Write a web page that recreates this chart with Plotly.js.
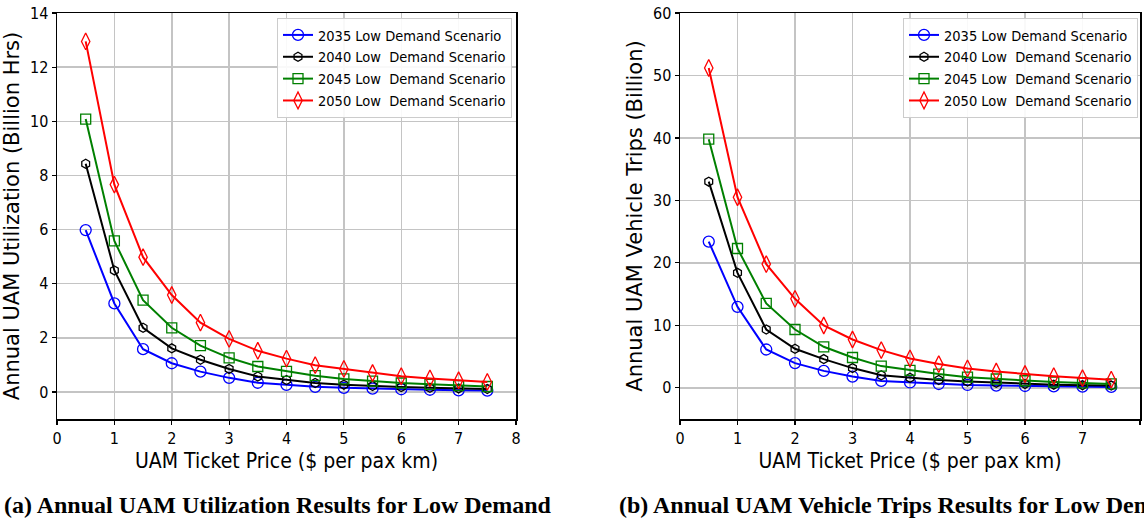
<!DOCTYPE html>
<html>
<head>
<meta charset="utf-8">
<script src="https://cdn.plot.ly/plotly-3.0.1.min.js"></script>
<style>
html,body{margin:0;padding:0;background:#fff;}
#chart{width:1144px;height:518px;}
</style>
</head>
<body>
<div id="chart"></div>
<script>
// ---- data ----
const price = [0.5, 1, 1.5, 2, 2.5, 3, 3.5, 4, 4.5, 5, 5.5, 6, 6.5, 7, 7.5];
const seriesNames = ["2035 Low Demand Scenario", "2040 Low\u00a0 Demand Scenario", "2045 Low\u00a0 Demand Scenario", "2050 Low\u00a0 Demand Scenario"];

// (a) Annual UAM Utilization (Billion Hrs)
const util2035 = [5.98, 3.27, 1.58, 1.06, 0.75, 0.52, 0.34, 0.26, 0.19, 0.15, 0.12, 0.10, 0.08, 0.06, 0.05];
const util2040 = [8.43, 4.49, 2.37, 1.61, 1.19, 0.85, 0.57, 0.44, 0.33, 0.27, 0.22, 0.18, 0.15, 0.13, 0.11];
const util2045 = [10.08, 5.58, 3.39, 2.37, 1.71, 1.26, 0.94, 0.76, 0.60, 0.48, 0.40, 0.33, 0.28, 0.23, 0.20];
const util2050 = [12.95, 7.66, 4.98, 3.58, 2.56, 1.96, 1.52, 1.23, 0.99, 0.85, 0.70, 0.58, 0.50, 0.43, 0.37];

// (b) Annual UAM Vehicle Trips (Billion)
const trips2035 = [23.4, 12.96, 6.13, 3.95, 2.7, 1.8, 1.1, 0.85, 0.6, 0.45, 0.35, 0.28, 0.22, 0.18, 0.14];
const trips2040 = [33.0, 18.4, 9.33, 6.24, 4.59, 3.15, 2.0, 1.6, 1.25, 1.0, 0.8, 0.62, 0.5, 0.42, 0.35];
const trips2045 = [39.8, 22.3, 13.5, 9.33, 6.56, 4.85, 3.47, 2.8, 2.19, 1.7, 1.4, 1.12, 0.92, 0.78, 0.62];
const trips2050 = [51.2, 30.5, 19.8, 14.24, 9.97, 7.73, 6.03, 4.69, 3.79, 3.1, 2.6, 2.2, 1.85, 1.55, 1.3];

const xTicks = [0, 1, 2, 3, 4, 5, 6, 7, 8];
const captionA = "(a) Annual UAM Utilization Results for Low Demand";
const captionB = "(b) Annual UAM Vehicle Trips Results for Low Demand";
const xTitle = "UAM Ticket Price ($ per pax km)";
const yTitleA = "Annual UAM Utilization (Billion Hrs)";
const yTitleB = "Annual UAM Vehicle Trips (Billion)";

// ---- styles ----
const colors = ["#0000ff", "#000000", "#008000", "#ff0000"];
const symbols = ["circle-open", "hexagon-open", "square-open", "diamond-tall-open"];
const sizes = [11, 9, 10, 12];
const condensed = "'DejaVu Sans Condensed', 'Liberation Sans Narrow', 'DejaVu Sans', sans-serif";
const normal = "'DejaVu Sans', sans-serif";

function mk(y, i, xa, ya, leg) {
  return {
    x: price, y: y, type: "scatter", mode: "lines+markers",
    name: seriesNames[i], xaxis: xa, yaxis: ya, legend: leg,
    line: {color: colors[i], width: 2},
    marker: {symbol: symbols[i], size: sizes[i], color: colors[i], line: {color: colors[i], width: 1.3}}
  };
}
const utilSets = [util2035, util2040, util2045, util2050];
const tripSets = [trips2035, trips2040, trips2045, trips2050];
const traces = [];
utilSets.forEach((s, i) => traces.push(mk(s, i, "x", "y", "legend")));
tripSets.forEach((s, i) => traces.push(mk(s, i, "x2", "y2", "legend2")));

const W = 1144, H = 518;
function axBase() {
  return {
    showline: true, linecolor: "#000", linewidth: 1.5, mirror: true,
    ticks: "outside", ticklen: 4, tickwidth: 1.2, tickcolor: "#000",
    showgrid: true, gridcolor: "#c4c4c4", gridwidth: 1.5,
    zeroline: false,
    tickfont: {family: condensed, size: 16, color: "#000"}
  };
}
const xa = Object.assign(axBase(), {
  domain: [57 / W, 516 / W], range: [0, 8], tickvals: xTicks, anchor: "y",
  title: {text: xTitle, font: {family: condensed, size: 21, color: "#000"}, standoff: 6}
});
const xa2 = Object.assign(axBase(), {
  domain: [680 / W, 1140 / W], range: [0, 8], tickvals: xTicks, anchor: "y2",
  title: {text: xTitle, font: {family: condensed, size: 21, color: "#000"}, standoff: 6}
});
const ya = Object.assign(axBase(), {
  domain: [1 - 419 / H, 1 - 13 / H], range: [-1, 14], dtick: 2, anchor: "x",
  title: {text: yTitleA, font: {family: normal, size: 21, color: "#000"}, standoff: 6}
});
const ya2 = Object.assign(axBase(), {
  domain: [1 - 419 / H, 1 - 13 / H], range: [-5, 60], dtick: 10, anchor: "x2",
  title: {text: yTitleB, font: {family: normal, size: 21, color: "#000"}, standoff: 4}
});

function legendStyle(xr) {
  return {
    x: xr / W, xanchor: "right", y: 1 - 18 / H, yanchor: "top",
    bgcolor: "rgba(255,255,255,0.9)", bordercolor: "#cccccc", borderwidth: 1,
    font: {family: condensed, size: 14.5, color: "#000"},
    itemwidth: 30, tracegroupgap: 0
  };
}

const layout = {
  width: W, height: H,
  margin: {l: 0, r: 0, t: 0, b: 0},
  paper_bgcolor: "#fff", plot_bgcolor: "#fff",
  showlegend: true,
  xaxis: xa, yaxis: ya, xaxis2: xa2, yaxis2: ya2,
  legend: legendStyle(512),
  legend2: legendStyle(1138),
  annotations: [
    {text: "<b>" + captionA + "</b>", xref: "paper", yref: "paper", x: 278 / W, y: 1 - 505 / H,
     xanchor: "center", yanchor: "middle", showarrow: false,
     font: {family: "'Liberation Serif', 'Times New Roman', serif", size: 24, color: "#000"}},
    {text: "<b>" + captionB + "</b>", xref: "paper", yref: "paper", x: 617 / W, y: 1 - 505 / H,
     xanchor: "left", yanchor: "middle", showarrow: false,
     font: {family: "'Liberation Serif', 'Times New Roman', serif", size: 24, color: "#000"}}
  ]
};

Plotly.newPlot("chart", traces, layout, {displayModeBar: false, staticPlot: true});
</script>
</body>
</html>
